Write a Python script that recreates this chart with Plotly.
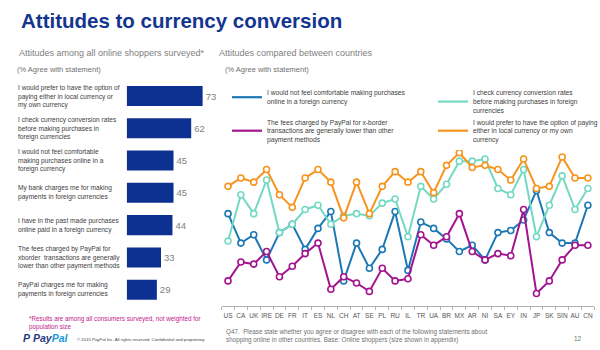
import plotly.graph_objects as go

W, H = 600, 350

# ---------------- data ----------------
statements = [
    "I would prefer to have the option of<br>paying either in local currency or<br>my own currency",
    "I check currency conversion rates<br>before making purchases in<br>foreign currencies",
    "I would not feel comfortable<br>making purchases online in a<br>foreign currency",
    "My bank charges me for making<br>payments in foreign currencies",
    "I have in the past made purchases<br>online paid in a foreign currency",
    "The fees charged by PayPal for<br>xborder  transactions are generally<br>lower than other payment methods",
    "PayPal charges me for making<br>payments in foreign currencies",
]
overall = [73, 62, 45, 45, 44, 33, 29]

countries = ["US", "CA", "UK", "IRE", "DE", "FR", "IT", "ES", "NL", "CH", "AT", "SE", "PL", "RU",
             "IL", "TR", "UA", "BR", "MX", "AR", "NI", "SA", "EY", "IN", "JP", "SK", "SIN", "AU", "CN"]

not_comfortable = [56, 42, 46, 34, 47, 51, 39, 49, 57, 24, 42, 30, 39, 57, 29, 52, 49, 44, 38, 41,
                   34, 47, 48, 53, 67, 47, 42, 42, 60]
check_rates = [43, 65, 56, 72, 47, 51, 58, 60, 51, 55, 56, 55, 61, 63, 45, 69, 63, 70, 81, 81,
               82, 68, 65, 77, 45, 60, 74, 58, 68]
fees_lower = [24, 33, 32, 38, 26, 31, 37, 42, 20, 26, 23, 19, 30, 24, 25, 46, 41, 45, 56, 38,
              34, 37, 36, 58, 18, 24, 34, 41, 41]
prefer_option = [69, 73, 71, 77, 65, 59, 73, 77, 71, 54, 71, 56, 69, 76, 71, 76, 66, 79, 85, 78,
                 79, 77, 72, 82, 68, 69, 83, 73, 73]

series_names = [
    "I would not feel comfortable making purchases<br>online in a foreign currency",
    "I check currency conversion rates<br>before making purchases in foreign<br>currencies",
    "The fees charged by PayPal for x-border<br>transactions are generally lower than other<br>payment methods",
    "I would prefer to have the option of paying<br>either in local currency or my own<br>currency",
]
series_values = [not_comfortable, check_rates, fees_lower, prefer_option]
series_colors = ["#1c78b5", "#74d9c3", "#a3148f", "#f7941d"]

NAVY = "#0c3190"
FONT = "Liberation Sans, Arial, sans-serif"


def px(x):
    return x / W


def py(y):
    return 1 - y / H


fig = go.Figure()

# ---------------- left bar chart ----------------
fig.add_trace(go.Bar(
    x=overall, y=statements, orientation="h",
    marker=dict(color=NAVY, line=dict(width=0)),
    width=0.62,
    text=overall, textposition="outside", cliponaxis=False,
    textfont=dict(size=9.5, color="#808080", family=FONT),
    xaxis="x", yaxis="y", showlegend=False, hoverinfo="skip",
))

# ---------------- right line chart ----------------
for name, vals, col in zip(series_names, series_values, series_colors):
    fig.add_trace(go.Scatter(
        x=countries, y=vals, mode="lines+markers",
        line=dict(color=col, width=2),
        marker=dict(symbol="circle", size=6, color="white", line=dict(color=col, width=1.6)),
        xaxis="x2", yaxis="y2", showlegend=False, hoverinfo="skip",
    ))
for name, col in zip(series_names, series_colors):
    fig.add_trace(go.Scatter(
        x=[None], y=[None], mode="lines", name=name,
        line=dict(color=col, width=2.2),
        xaxis="x2", yaxis="y2", showlegend=True,
    ))

annotations = []
for s in statements:
    annotations.append(dict(
        x=px(16), xref="paper", xanchor="left", y=s, yref="y", yanchor="middle",
        text=s, align="left", showarrow=False,
        font=dict(size=6.6, color="#404040", family=FONT),
    ))


def note(x, y, text, size, color, anchor="left", align="left"):
    annotations.append(dict(
        x=px(x), y=py(y), xref="paper", yref="paper", xanchor=anchor, yanchor="middle",
        text=text, align=align, showarrow=False,
        font=dict(size=size, color=color, family=FONT),
    ))


note(17, 53, "Attitudes among all online shoppers surveyed*", 9, "#808080")
note(15, 69, "(% Agree with statement)", 7.5, "#707070")
note(217, 53, "Attitudes compared between countries", 9, "#808080")
note(223, 69, "(% Agree with statement)", 7.5, "#707070")

note(27, 323, "*Results are among all consumers surveyed, not weighted for<br>population size",
     6.3, "#c2188e")
note(75, 339, "© 2015 PayPal Inc. All rights reserved. Confidential and proprietary.", 4.3, "#404040")
note(224, 336, "Q47.  Please state whether you agree or disagree with each of the following statements about"
     "<br>shopping online in other countries. Base: Online shoppers (size shown in appendix)",
     6.3, "#707070")
note(572, 338, "12", 6.5, "#707070")

# PayPal logo as text
note(21, 338, "<b><i><span style='color:#253b80'>P</span></i></b> "
     "<b><i><span style='color:#253b80'>Pay</span><span style='color:#179bd7'>Pal</span></i></b>",
     10.5, "#253b80")

fig.update_layout(
    width=W, height=H,
    margin=dict(l=0, r=0, t=0, b=0, autoexpand=False),
    paper_bgcolor="white", plot_bgcolor="rgba(0,0,0,0)",
    font=dict(family=FONT),
    title=dict(
        text="<b>Attitudes to currency conversion</b>",
        x=px(21), xanchor="left", xref="paper",
        y=py(21), yanchor="middle", yref="container",
        font=dict(size=20.5, color="#12358f", family=FONT),
    ),
    xaxis=dict(domain=[px(126.7), px(126.7 + 85 * 1.04)], range=[0, 85], visible=False,
               fixedrange=True),
    yaxis=dict(domain=[py(305.8), py(79.9)], type="category", categoryorder="array",
               categoryarray=statements, range=[6.5, -0.5], visible=False, fixedrange=True),
    xaxis2=dict(domain=[px(221.6), px(594.3)], anchor="y2", type="category",
                categoryorder="array", categoryarray=countries, range=[-0.5, 28.5],
                tickson="boundaries", ticks="outside", ticklen=3, tickcolor="#b0b0b0",
                showline=True, linecolor="#b0b0b0", linewidth=1, showgrid=False,
                ticklabelstandoff=3,
                tickfont=dict(size=6.5, color="#555555", family=FONT), tickangle=0),
    yaxis2=dict(domain=[py(306), py(150)], anchor="x2", range=[12.06, 86.3], visible=False),
    legend=dict(
        orientation="h", x=px(227), xanchor="left", y=py(82), yanchor="top",
        entrywidth=161, entrywidthmode="pixels", itemwidth=30,
        font=dict(size=6.7, color="#404040", family=FONT),
        bgcolor="rgba(0,0,0,0)", borderwidth=0, valign="middle", traceorder="normal",
    ),
    annotations=annotations,
    showlegend=True,
)

fig.write_html("out.html")
